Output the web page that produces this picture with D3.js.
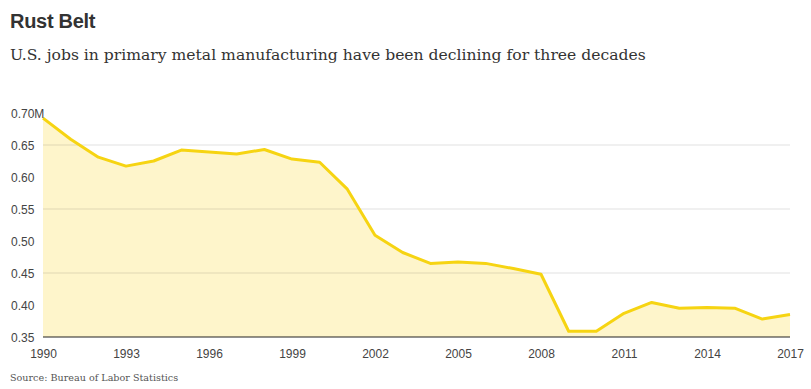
<!DOCTYPE html>
<html><head><meta charset="utf-8">
<script src="https://cdn.jsdelivr.net/npm/d3@7"></script>
<style>body{margin:0;background:#fff}svg{display:block}</style>
</head><body>
<svg id="c" width="811" height="389"></svg>
<script>
const years = [1990,1991,1992,1993,1994,1995,1996,1997,1998,1999,2000,2001,2002,2003,2004,2005,2006,2007,2008,2009,2010,2011,2012,2013,2014,2015,2016,2017];
const jobs = [0.692,0.659,0.631,0.617,0.625,0.642,0.639,0.636,0.643,0.628,0.623,0.581,0.509,0.482,0.465,0.467,0.465,0.457,0.448,0.359,0.359,0.387,0.404,0.395,0.396,0.395,0.378,0.385];
const yTicks = [0.35,0.40,0.45,0.50,0.55,0.60,0.65,0.70];
const gridTicks = [0.45,0.55,0.65];
const xTicks = [1990,1993,1996,1999,2002,2005,2008,2011,2014,2017];

const svg = d3.select("#c");
const x = d3.scaleLinear().domain([1990,2017]).range([43,790]);
const y = d3.scaleLinear().domain([0.35,0.70]).range([337,113]);
const data = years.map((d,i)=>({year:d, v:jobs[i]}));

svg.append("text").attr("x",10).attr("y",28).text("Rust Belt")
  .attr("font-family","Liberation Sans, Arial, sans-serif").attr("font-weight","bold")
  .attr("font-size",20).attr("fill","#333").attr("letter-spacing","-0.3");
svg.append("text").attr("x",10).attr("y",60)
  .text("U.S. jobs in primary metal manufacturing have been declining for three decades")
  .attr("font-family","DejaVu Serif, serif").attr("font-size",15.6).attr("fill","#333");

svg.append("path").datum(data)
  .attr("d", d3.area().x(d=>x(d.year)).y0(y(0.35)).y1(d=>y(d.v)))
  .attr("fill","#fef5cb");

svg.append("g").selectAll("line").data(gridTicks).join("line")
  .attr("x1",x(1990)).attr("x2",x(2017)).attr("y1",d=>y(d)).attr("y2",d=>y(d))
  .attr("stroke","rgba(0,0,0,0.12)").attr("stroke-width",1);

svg.append("path").datum(data)
  .attr("d", d3.line().x(d=>x(d.year)).y(d=>y(d.v)))
  .attr("fill","none").attr("stroke","#f6d412").attr("stroke-width",3).attr("stroke-linejoin","round");

svg.append("line").attr("x1",x(1990)).attr("x2",x(2017)).attr("y1",y(0.35)).attr("y2",y(0.35))
  .attr("stroke","#222").attr("stroke-width",1.2);

const yAxis = d3.axisLeft(y).tickValues(yTicks).tickSize(0)
  .tickFormat(d=> d===0.70 ? "0.70M" : d.toFixed(2));
const gy = svg.append("g").attr("transform","translate(11,0)").call(yAxis);
gy.select(".domain").remove();
gy.selectAll("text").attr("text-anchor","start").attr("x",0).attr("dy","0.35em")
  .attr("font-family","Liberation Sans, Arial, sans-serif").attr("font-size",12).attr("fill","#444");

const xAxis = d3.axisBottom(x).tickValues(xTicks).tickSize(0).tickFormat(d3.format("d"));
const gx = svg.append("g").attr("transform","translate(0,349)").call(xAxis);
gx.select(".domain").remove();
gx.selectAll("text").attr("dy","0.71em").attr("y",0)
  .attr("font-family","Liberation Sans, Arial, sans-serif").attr("font-size",12).attr("fill","#444");

svg.append("text").attr("x",10).attr("y",381).text("Source: Bureau of Labor Statistics")
  .attr("font-family","DejaVu Serif, serif").attr("font-size",9.6).attr("fill","#555");
</script>
</body></html>
